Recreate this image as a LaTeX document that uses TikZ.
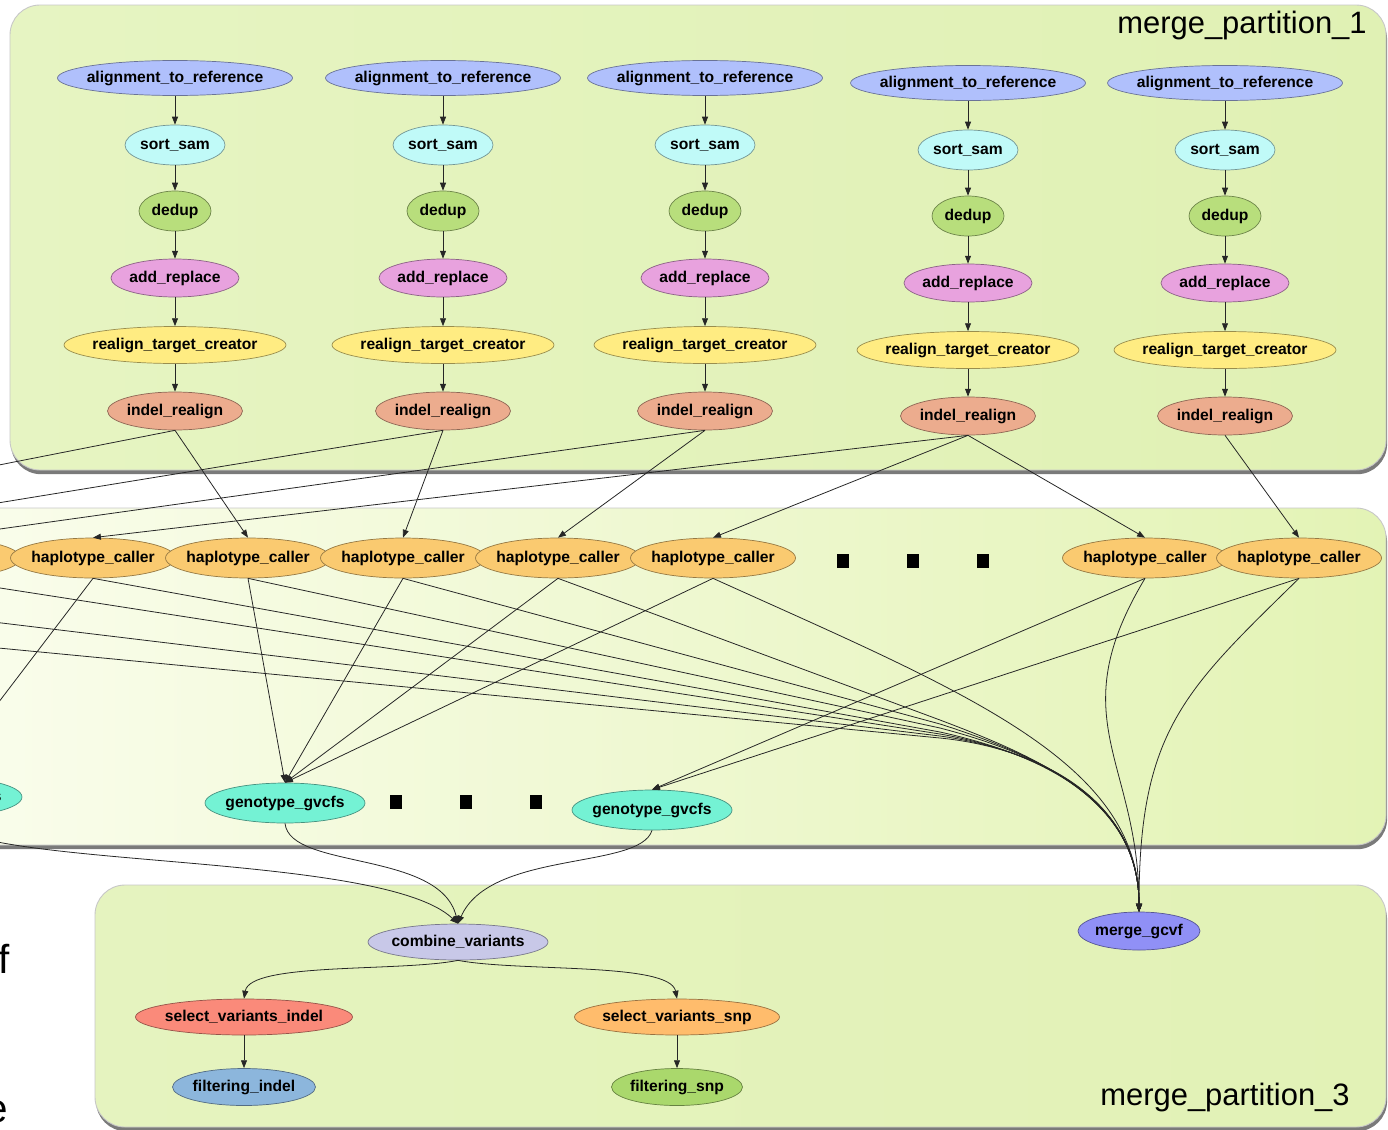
\documentclass[tikz,border=0pt]{standalone}
\usepackage{fontspec}
\setmainfont{Liberation Sans}
\usetikzlibrary{shapes.geometric,arrows.meta,shadows}

% node fills
\definecolor{cAlign}{RGB}{176,192,252}
\definecolor{cSort}{RGB}{192,250,248}
\definecolor{cDedup}{RGB}{184,222,124}
\definecolor{cAdd}{RGB}{232,162,222}
\definecolor{cRealign}{RGB}{255,236,130}
\definecolor{cIndel}{RGB}{236,172,142}
\definecolor{cHap}{RGB}{250,202,112}
\definecolor{cGeno}{RGB}{116,242,212}
\definecolor{cMerge}{RGB}{144,144,246}
\definecolor{cComb}{RGB}{200,200,232}
\definecolor{cSelI}{RGB}{250,138,122}
\definecolor{cFiltI}{RGB}{140,182,220}
\definecolor{cSelS}{RGB}{255,188,108}
\definecolor{cFiltS}{RGB}{170,216,108}
% cluster shading
\definecolor{kTopL}{RGB}{230,244,194}
\definecolor{kTopM}{RGB}{244,250,221}
\definecolor{kTopR}{RGB}{224,241,180}
\definecolor{kMidL}{RGB}{250,253,236}
\definecolor{kMidM}{RGB}{243,250,219}
\definecolor{kMidR}{RGB}{227,243,181}
\definecolor{kBotL}{RGB}{229,243,191}
\definecolor{kBotM}{RGB}{245,250,226}
\definecolor{kBotR}{RGB}{226,242,182}

% label set in a zero-width box, so the ellipse takes its size from the style
\newcommand{\jobtxt}[1]{\makebox[0pt]{#1}}

\tikzset{
  job/.style={ellipse, draw=#1!60!black, fill=#1, line width=0.4pt, inner sep=0pt,
    font=\bfseries\fontsize{8.9}{10}\selectfont},
  aln/.style={job=cAlign, minimum width=4.7cm, minimum height=0.7cm},
  srt/.style={job=cSort, minimum width=2.0cm, minimum height=0.8cm},
  ddp/.style={job=cDedup, minimum width=1.44cm, minimum height=0.8cm},
  adr/.style={job=cAdd, minimum width=2.56cm, minimum height=0.76cm},
  rtc/.style={job=cRealign, minimum width=4.44cm, minimum height=0.74cm},
  ira/.style={job=cIndel, minimum width=2.7cm, minimum height=0.76cm},
  hap/.style={job=cHap, minimum width=3.3cm, minimum height=0.8cm},
  gen/.style={job=cGeno, minimum width=3.2cm, minimum height=0.8cm},
  mrg/.style={job=cMerge, minimum width=2.44cm, minimum height=0.76cm},
  cmb/.style={job=cComb, minimum width=3.6cm, minimum height=0.72cm},
  seli/.style={job=cSelI, minimum width=4.34cm, minimum height=0.72cm},
  filti/.style={job=cFiltI, minimum width=2.86cm, minimum height=0.74cm},
  sels/.style={job=cSelS, minimum width=4.1cm, minimum height=0.72cm},
  filts/.style={job=cFiltS, minimum width=2.62cm, minimum height=0.74cm},
  sq/.style={fill=black, inner sep=0pt, minimum width=0.24cm, minimum height=0.28cm},
  cluster/.style={rounded corners=0.6cm, draw=black!22, line width=0.5pt,
    drop shadow={shadow xshift=0.6pt, shadow yshift=-2.4pt, opacity=0.65, fill=black!80}},
  ctitle/.style={inner sep=0pt, anchor=base, font=\fontsize{17.6}{20}\selectfont},
  edge/.style={-{Triangle[length=4.5pt,width=3.4pt]}, line width=0.45pt, black!85},
}

\begin{document}
\begin{tikzpicture}[x=0.02cm, y=-0.02cm]
\useasboundingbox (0,0) rectangle (1388,1129);
\fill[white] (0,0) rectangle (1388,1129);

% ---------- clusters ----------
\path[cluster, left color=kTopL, middle color=kTopM, right color=kTopR] (10,5) rectangle (1386,470);
\path[cluster, left color=kMidL, middle color=kMidM, right color=kMidR] (-40,508) rectangle (1386,845);
\path[cluster, left color=kBotL, middle color=kBotM, right color=kBotR] (95,885) rectangle (1386,1127);

\node[ctitle] (t1) at (1242,33) {merge\_partition\_1};
\node[ctitle] (t3) at (1225,1105) {merge\_partition\_3};

% stray letters of surrounding text
\node[anchor=base west, inner sep=0pt, font=\fontsize{23}{26}\selectfont] (tf) at (-2,973) {f};
\node[anchor=base west, inner sep=0pt, font=\fontsize{23}{26}\selectfont] (te) at (-15,1122) {e};

% ---------- per-sample preprocessing chains ----------
\foreach \c/\x/\d in {1/175/0, 2/443/0, 3/705/0, 4/968/5, 5/1225/5} {
  \node[aln] (a\c) at (\x,{78+\d})  {\jobtxt{alignment\_to\_reference}};
  \node[srt] (s\c) at (\x,{145+\d}) {\jobtxt{sort\_sam}};
  \node[ddp] (d\c) at (\x,{211+\d}) {\jobtxt{dedup}};
  \node[adr] (r\c) at (\x,{278+\d}) {\jobtxt{add\_replace}};
  \node[rtc] (t\c) at (\x,{345+\d}) {\jobtxt{realign\_target\_creator}};
  \node[ira] (i\c) at (\x,{411+\d}) {\jobtxt{indel\_realign}};
  \draw[edge] (a\c) -- (s\c);
  \draw[edge] (s\c) -- (d\c);
  \draw[edge] (d\c) -- (r\c);
  \draw[edge] (r\c) -- (t\c);
  \draw[edge] (t\c) -- (i\c);
}

% ---------- haplotype callers ----------
% callers further to the left lie outside the page; only their edges show
\coordinate (hcAtop) at (-217,538);
\coordinate (hcBtop) at (-372,538);
\coordinate (hcBbot) at (-372,578);
\coordinate (hcCbot) at (-734,578);
\node[hap] (hc0) at (-62,558) {\jobtxt{haplotype\_caller}};
\node[hap] (hc1) at (93,558)  {\jobtxt{haplotype\_caller}};
\node[hap] (hc2) at (248,558) {\jobtxt{haplotype\_caller}};
\node[hap] (hc3) at (403,558) {\jobtxt{haplotype\_caller}};
\node[hap] (hc4) at (558,558) {\jobtxt{haplotype\_caller}};
\node[hap] (hc5) at (713,558) {\jobtxt{haplotype\_caller}};
\node[hap] (hc6) at (1145,558) {\jobtxt{haplotype\_caller}};
\node[hap] (hc7) at (1299,558) {\jobtxt{haplotype\_caller}};
\node[sq] (q1) at (843,561) {};
\node[sq] (q2) at (913,561) {};
\node[sq] (q3) at (983,561) {};

\node[gen] (gg0) at (-58,797) {\jobtxt{genotype\_gvcfs}};
\node[gen] (gg1) at (285,803) {\jobtxt{genotype\_gvcfs}};
\node[gen] (gg2) at (652,810) {\jobtxt{genotype\_gvcfs}};
\node[sq] (q4) at (396,802) {};
\node[sq] (q5) at (466,802) {};
\node[sq] (q6) at (536,802) {};

\node[mrg] (mg) at (1139,931) {\jobtxt{merge\_gcvf}};

% ---------- merged calling ----------
\node[cmb]   (cv)  at (458,942)  {\jobtxt{combine\_variants}};
\node[seli]  (svi) at (244,1017) {\jobtxt{select\_variants\_indel}};
\node[filti] (fi)  at (244,1087) {\jobtxt{filtering\_indel}};
\node[sels]  (svs) at (677,1017) {\jobtxt{select\_variants\_snp}};
\node[filts] (fs)  at (677,1087) {\jobtxt{filtering\_snp}};

% ---------- realigned reads to callers ----------
\draw[edge] (i1.south) -- (hcBtop);
\draw[edge] (i1.south) -- (hc2.north);
\draw[edge] (i2.south) -- (hcAtop);
\draw[edge] (i2.south) -- (hc3.north);
\draw[edge] (i3.south) -- (hc0.north);
\draw[edge] (i3.south) -- (hc4.north);
\draw[edge] (i4.south) -- (hc1.north);
\draw[edge] (i4.south) -- (hc5.north);
\draw[edge] (i4.south) -- (hc6.north);
\draw[edge] (i5.south) -- (hc7.north);

% ---------- callers to joint genotyping ----------
\draw[edge] (hc1.south) -- (gg0.north);
\draw[edge] (hc2.south) -- (gg1.north);
\draw[edge] (hc3.south) -- (gg1.north);
\draw[edge] (hc4.south) -- (gg1.north);
\draw[edge] (hc5.south) -- (gg1.north);
\draw[edge] (hc6.south) -- (gg2.north);
\draw[edge] (hc7.south) -- (gg2.north);

% ---------- callers to merge_gcvf ----------
\draw[edge] (hcCbot) -- (940,738) .. controls (1040,748) and (1139,800) .. (mg.north);
\draw[edge] (hcBbot) -- (940,736) .. controls (1040,750) and (1139,800) .. (mg.north);
\draw[edge] (hc0.south) -- (940,734) .. controls (1040,752) and (1139,800) .. (mg.north);
\draw[edge] (hc1.south) -- (940,732) .. controls (1040,754) and (1139,800) .. (mg.north);
\draw[edge] (hc2.south) -- (940,728) .. controls (1040,754) and (1139,800) .. (mg.north);
\draw[edge] (hc3.south) -- (940,724) .. controls (1040,756) and (1139,800) .. (mg.north);
\draw[edge] (hc4.south) -- (940,720) .. controls (1040,758) and (1139,800) .. (mg.north);
\draw[edge] (hc5.south) .. controls (960,690) and (1139,760) .. (mg.north);
\draw[edge] (hc6.south) .. controls (1060,720) and (1139,760) .. (mg.north);
\draw[edge] (hc7.south) .. controls (1185,690) and (1139,730) .. (mg.north);

% ---------- genotypes to combine ----------
\draw[edge] (gg0.south) .. controls (-40,870) and (380,850) .. (cv.north);
\draw[edge] (gg1.south) .. controls (290,870) and (440,850) .. (cv.north);
\draw[edge] (gg2.south) .. controls (640,870) and (490,850) .. (cv.north);

% ---------- variant selection and filtering ----------
\draw[edge] (cv.south) .. controls (400,972) and (250,962) .. (svi.north);
\draw[edge] (cv.south) .. controls (520,972) and (670,962) .. (svs.north);
\draw[edge] (svi) -- (fi);
\draw[edge] (svs) -- (fs);
\end{tikzpicture}
\end{document}
